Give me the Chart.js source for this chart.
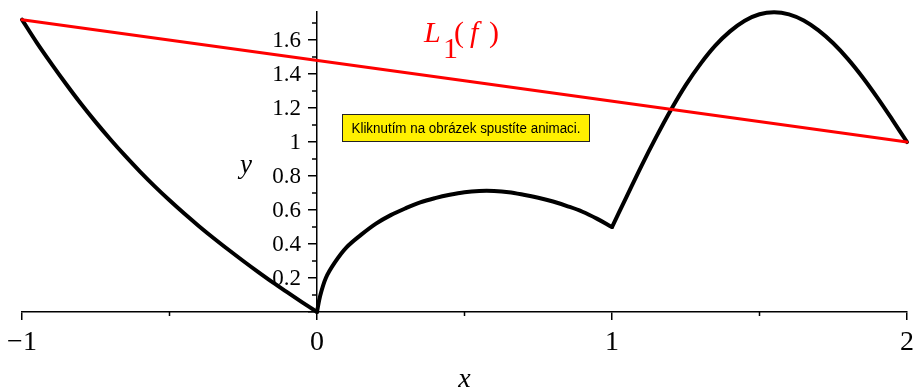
<!DOCTYPE html>
<html lang="cs">
<head>
<meta charset="UTF-8">
<title>L1(f)</title>
<script src="https://cdn.jsdelivr.net/npm/chart.js"></script>
<style>
  html, body { margin: 0; padding: 0; background: #fff; }
  #wrap { position: relative; width: 915px; height: 388px; }
</style>
</head>
<body>
<div id="wrap"><canvas id="graf"></canvas></div>
<script>
// f na [-1, 0]
const leftX = [-1, -0.95, -0.9, -0.85, -0.8, -0.75, -0.7, -0.65, -0.6, -0.55, -0.5,
               -0.45, -0.4, -0.35, -0.3, -0.25, -0.2, -0.15, -0.1, -0.05, 0];
const leftY = [1.72, 1.585, 1.46, 1.34, 1.225, 1.117, 1.015, 0.918, 0.826, 0.739, 0.657,
               0.579, 0.505, 0.434, 0.366, 0.300, 0.236, 0.174, 0.115, 0.057, 0];
// f na [0, 1]
const midX = [0, 0.01, 0.03, 0.06, 0.1, 0.15, 0.2, 0.25, 0.3, 0.35, 0.4, 0.45, 0.5, 0.55,
              0.6, 0.65, 0.7, 0.75, 0.8, 0.85, 0.9, 0.95, 1];
const midY = [0, 0.09, 0.2, 0.29, 0.38, 0.455, 0.52, 0.57, 0.61, 0.645, 0.67, 0.69, 0.705, 0.712,
              0.712, 0.705, 0.69, 0.672, 0.65, 0.622, 0.59, 0.548, 0.5];
// f na [1, 2]
const rightX = [1, 1.05, 1.1, 1.15, 1.2, 1.25, 1.3, 1.35, 1.4, 1.45, 1.5, 1.55, 1.6, 1.65,
                1.7, 1.75, 1.8, 1.85, 1.9, 1.95, 2];
const rightY = [0.5, 0.68, 0.86, 1.03, 1.19, 1.335, 1.46, 1.567, 1.651, 1.714, 1.752, 1.764, 1.751, 1.715,
                1.657, 1.581, 1.488, 1.38, 1.26, 1.132, 1.0];
// interpolace L1(f) přes koncové body
const lineX = [-1, 2];
const lineY = [1.72, 1.0];

const xMajor = [-1, 0, 1, 2];
const xMinor = [-0.5, 0.5, 1.5];
const yMajor = [0.2, 0.4, 0.6, 0.8, 1, 1.2, 1.4, 1.6];
const yLabels = ['0.2', '0.4', '0.6', '0.8', '1', '1.2', '1.4', '1.6'];
const yMinor = [0.1, 0.3, 0.5, 0.7, 0.9, 1.1, 1.3, 1.5, 1.7];

const napis = 'Kliknutím na obrázek spustíte animaci.';

const toPts = (xs, ys) => xs.map((x, i) => ({ x: x, y: ys[i] }));

const cara = (xs, ys, barva, sirka) => ({
  data: toPts(xs, ys),
  borderColor: barva,
  borderWidth: sirka,
  pointRadius: 0,
  fill: false,
  clip: false,
  tension: 0.35,
  borderCapStyle: 'round',
  borderJoinStyle: 'round'
});

const serif = '"Liberation Serif", "DejaVu Serif", serif';

const dekorace = {
  id: 'dekorace',
  afterDraw(chart) {
    const ctx = chart.ctx;
    const sx = chart.scales.x, sy = chart.scales.y;
    const x0 = sx.getPixelForValue(0), y0 = sy.getPixelForValue(0);
    ctx.save();
    // vedlejší značky na osách
    ctx.strokeStyle = '#000';
    ctx.lineWidth = 1.5;
    ctx.beginPath();
    xMinor.forEach(v => {
      const px = sx.getPixelForValue(v);
      ctx.moveTo(px, y0);
      ctx.lineTo(px, y0 + 4);
    });
    yMinor.forEach(v => {
      const py = sy.getPixelForValue(v);
      ctx.moveTo(x0, py);
      ctx.lineTo(x0 - 5, py);
    });
    ctx.stroke();

    // popisky osy y vlevo od osy
    ctx.fillStyle = '#000';
    ctx.font = '23px ' + serif;
    ctx.textAlign = 'right';
    ctx.textBaseline = 'middle';
    yMajor.forEach((v, i) => {
      ctx.fillText(yLabels[i], x0 - 16, sy.getPixelForValue(v) + 1);
    });

    // název osy y
    ctx.font = 'italic 27px ' + serif;
    ctx.textAlign = 'center';
    ctx.textBaseline = 'alphabetic';
    ctx.fillText('y', x0 - 71, sy.getPixelForValue(0.86) + 7);

    // L1(f)
    ctx.fillStyle = '#ff0000';
    ctx.textAlign = 'left';
    const lx = sx.getPixelForValue(0.363);
    const ly = sy.getPixelForValue(1.587);
    ctx.font = 'italic 30px ' + serif;
    ctx.fillText('L', lx, ly);
    ctx.fillText('f', lx + 46, ly);
    ctx.font = '30px ' + serif;
    ctx.fillText('1', lx + 19, ly + 16);
    ctx.fillText('(', lx + 30, ly);
    ctx.fillText(')', lx + 65, ly);

    // žlutý rámeček
    const bx = x0 + 25, by = 114, bw = 248, bh = 28;
    ctx.fillStyle = '#fff000';
    ctx.fillRect(bx, by, bw, bh);
    ctx.strokeStyle = '#222';
    ctx.lineWidth = 1;
    ctx.strokeRect(bx + 0.5, by + 0.5, bw - 1, bh - 1);
    ctx.fillStyle = '#000';
    ctx.font = '14px "Liberation Sans", Arial, sans-serif';
    ctx.textAlign = 'center';
    ctx.textBaseline = 'middle';
    ctx.fillText(napis, bx + bw / 2, by + bh / 2 + 1, 229);
    ctx.restore();
  }
};

new Chart(document.getElementById('graf'), {
  type: 'line',
  data: {
    datasets: [
      cara(lineX, lineY, '#ff0000', 3),
      cara(leftX, leftY, '#000', 4),
      cara(midX, midY, '#000', 4),
      cara(rightX, rightY, '#000', 4)
    ]
  },
  options: {
    responsive: true,
    maintainAspectRatio: false,
    animation: false,
    layout: { padding: { left: 22, right: 8, top: 12, bottom: 0 } },
    plugins: { legend: { display: false }, tooltip: { enabled: false } },
    scales: {
      x: {
        type: 'linear',
        min: -1,
        max: 2,
        afterFit: s => { s.height = 76; s.paddingLeft = 0; s.paddingRight = 0; },
        afterBuildTicks: s => { s.ticks = xMajor.map(v => ({ value: v })); },
        ticks: {
          color: '#000',
          padding: 6,
          font: { family: serif, size: 28 },
          callback: v => v < 0 ? '\u2212' + Math.abs(v) : String(v)
        },
        grid: { drawOnChartArea: false, tickLength: 8, color: '#000', lineWidth: 1.5 },
        border: { color: '#000', width: 1.5 },
        title: {
          display: true,
          text: 'x',
          color: '#000',
          font: { family: serif, size: 28, style: 'italic', lineHeight: 0.6 },
          padding: { top: 0, bottom: 0 }
        }
      },
      y: {
        type: 'linear',
        position: { x: 0 },
        min: 0,
        max: 1.765,
        afterBuildTicks: s => { s.ticks = [0].concat(yMajor).map(v => ({ value: v })); },
        ticks: { display: false },
        grid: { drawOnChartArea: false, tickLength: 8, color: '#000', lineWidth: 1.5 },
        border: { color: '#000', width: 1.5 }
      }
    }
  },
  plugins: [dekorace]
});
</script>
</body>
</html>
